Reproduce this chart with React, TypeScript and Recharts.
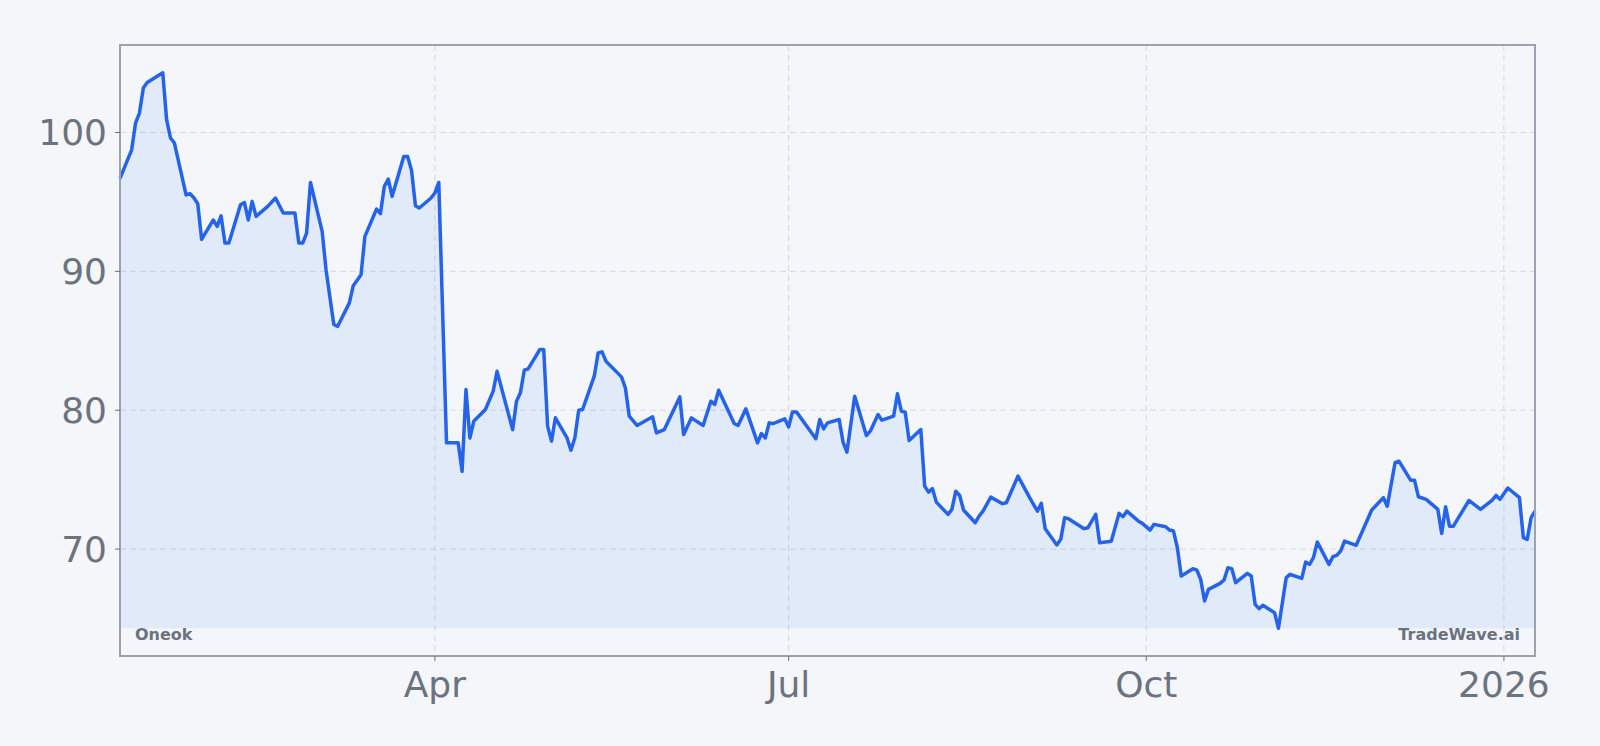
import { AreaChart, Area, XAxis, YAxis, CartesianGrid, ReferenceArea } from 'recharts'

// daily closes (Oneok, Jan 2025 - Jan 2026)
const dates = [
  '2025-01-10', '2025-01-13', '2025-01-14', '2025-01-15', '2025-01-16', '2025-01-17', '2025-01-21', '2025-01-22',
  '2025-01-23', '2025-01-24', '2025-01-27', '2025-01-28', '2025-01-29', '2025-01-30', '2025-01-31', '2025-02-03',
  '2025-02-04', '2025-02-05', '2025-02-06', '2025-02-07', '2025-02-10', '2025-02-11', '2025-02-12', '2025-02-13',
  '2025-02-14', '2025-02-17', '2025-02-19', '2025-02-21', '2025-02-24', '2025-02-25', '2025-02-26', '2025-02-27',
  '2025-02-28', '2025-03-03', '2025-03-04', '2025-03-06', '2025-03-07', '2025-03-10', '2025-03-11', '2025-03-13',
  '2025-03-14', '2025-03-17', '2025-03-18', '2025-03-19', '2025-03-20', '2025-03-21', '2025-03-24', '2025-03-25',
  '2025-03-26', '2025-03-27', '2025-03-28', '2025-03-31', '2025-04-01', '2025-04-02', '2025-04-04', '2025-04-07',
  '2025-04-08', '2025-04-09', '2025-04-10', '2025-04-11', '2025-04-14', '2025-04-16', '2025-04-17', '2025-04-21',
  '2025-04-22', '2025-04-23', '2025-04-24', '2025-04-25', '2025-04-28', '2025-04-29', '2025-04-30', '2025-05-01',
  '2025-05-02', '2025-05-05', '2025-05-06', '2025-05-07', '2025-05-08', '2025-05-09', '2025-05-12', '2025-05-13',
  '2025-05-14', '2025-05-15', '2025-05-19', '2025-05-20', '2025-05-21', '2025-05-23', '2025-05-27', '2025-05-28',
  '2025-05-30', '2025-06-03', '2025-06-04', '2025-06-06', '2025-06-09', '2025-06-11', '2025-06-12', '2025-06-13',
  '2025-06-17', '2025-06-18', '2025-06-20', '2025-06-23', '2025-06-24', '2025-06-25', '2025-06-26', '2025-06-27',
  '2025-06-30', '2025-07-01', '2025-07-02', '2025-07-03', '2025-07-08', '2025-07-09', '2025-07-10', '2025-07-11',
  '2025-07-14', '2025-07-15', '2025-07-16', '2025-07-18', '2025-07-21', '2025-07-22', '2025-07-24', '2025-07-25',
  '2025-07-28', '2025-07-29', '2025-07-30', '2025-07-31', '2025-08-01', '2025-08-04', '2025-08-05', '2025-08-06',
  '2025-08-07', '2025-08-08', '2025-08-11', '2025-08-12', '2025-08-13', '2025-08-14', '2025-08-15', '2025-08-18',
  '2025-08-19', '2025-08-20', '2025-08-22', '2025-08-25', '2025-08-26', '2025-08-29', '2025-09-01', '2025-09-03',
  '2025-09-04', '2025-09-05', '2025-09-08', '2025-09-09', '2025-09-10', '2025-09-11', '2025-09-15', '2025-09-16',
  '2025-09-18', '2025-09-19', '2025-09-22', '2025-09-24', '2025-09-25', '2025-09-26', '2025-09-29', '2025-09-30',
  '2025-10-02', '2025-10-03', '2025-10-06', '2025-10-07', '2025-10-08', '2025-10-09', '2025-10-10', '2025-10-13',
  '2025-10-14', '2025-10-15', '2025-10-16', '2025-10-17', '2025-10-20', '2025-10-21', '2025-10-22', '2025-10-23',
  '2025-10-24', '2025-10-27', '2025-10-28', '2025-10-29', '2025-10-30', '2025-10-31', '2025-11-03', '2025-11-04',
  '2025-11-06', '2025-11-07', '2025-11-10', '2025-11-11', '2025-11-12', '2025-11-13', '2025-11-14', '2025-11-17',
  '2025-11-18', '2025-11-19', '2025-11-20', '2025-11-21', '2025-11-24', '2025-11-28', '2025-12-01', '2025-12-02',
  '2025-12-04', '2025-12-05', '2025-12-08', '2025-12-09', '2025-12-10', '2025-12-12', '2025-12-15', '2025-12-16',
  '2025-12-17', '2025-12-18', '2025-12-19', '2025-12-23', '2025-12-26', '2025-12-29', '2025-12-30', '2025-12-31',
  '2026-01-02', '2026-01-05', '2026-01-06', '2026-01-07', '2026-01-08', '2026-01-09',
]

const prices = [
  96.7, 98.75, 100.68, 101.4, 103.2, 103.6, 104.3, 100.9,
  99.6, 99.24, 95.5, 95.6, 95.3, 94.87, 92.3, 93.7,
  93.24, 94.0, 92.04, 92.04, 94.8, 94.96, 93.7, 95.04,
  93.96, 94.68, 95.28, 94.2, 94.2, 92.04, 92.04, 92.76,
  96.4, 92.88, 90.12, 86.17, 86.04, 87.73, 88.97, 89.76,
  92.52, 94.49, 94.15, 96.12, 96.65, 95.4, 98.27, 98.27,
  97.27, 94.73, 94.56, 95.28, 95.64, 96.4, 77.65, 77.65,
  75.6, 81.49, 78.0, 79.2, 80.05, 81.37, 82.8, 78.6,
  80.65, 81.25, 82.88, 82.98, 84.37, 84.37, 78.85, 77.77,
  79.45, 78.0, 77.12, 78.0, 80.0, 80.05, 82.45, 84.13,
  84.2, 83.53, 82.4, 81.61, 79.57, 78.9, 79.53, 78.37,
  78.6, 80.96, 78.25, 79.45, 78.9, 80.65, 80.41, 81.44,
  79.04, 78.9, 80.1, 77.65, 78.32, 78.0, 79.09, 79.04,
  79.38, 78.8, 79.88, 79.88, 77.94, 79.33, 78.66, 79.09,
  79.33, 77.7, 76.98, 81.0, 78.18, 78.49, 79.69, 79.28,
  79.57, 81.18, 79.93, 79.86, 77.82, 78.61, 74.53, 74.1,
  74.35, 73.38, 72.5, 72.86, 74.17, 73.86, 72.81, 71.9,
  72.37, 72.73, 73.74, 73.27, 73.34, 75.25, 73.7, 72.73,
  73.29, 71.47, 70.3, 70.7, 72.26, 72.19, 71.47, 71.54,
  72.5, 70.46, 70.57, 72.57, 72.33, 72.73, 72.01, 71.85,
  71.37, 71.78, 71.61, 71.37, 71.3, 70.1, 68.06, 68.59,
  68.49, 67.82, 66.26, 67.1, 67.53, 67.77, 68.66, 68.59,
  67.58, 68.25, 68.06, 66.02, 65.71, 65.95, 65.42, 64.3,
  67.94, 68.18, 67.89, 69.06, 68.9, 69.38, 70.5, 68.9,
  69.45, 69.55, 69.86, 70.58, 70.27, 72.81, 73.7, 73.09,
  76.22, 76.33, 74.96, 74.96, 73.77, 73.58, 72.86, 71.13,
  73.05, 71.65, 71.65, 73.5, 72.86, 73.53, 73.86, 73.58,
  74.4, 73.7, 70.82, 70.7, 72.26, 72.73,
]

const xTickDates = ['2025-04-01', '2025-07-01', '2025-10-01', '2026-01-01']
const xTickLabels = ['Apr', 'Jul', 'Oct', '2026']
const yTicks = [70, 80, 90, 100]

const toTime = (d: string) => Date.parse(d + 'T00:00:00Z')

const data = dates.map((d, i) => ({ t: toTime(d), price: prices[i] }))
const xTicks = xTickDates.map(toTime)

const lo = Math.min(...prices)
const hi = Math.max(...prices)
const pad = (hi - lo) * 0.05
const yMin = lo - pad
const yMax = hi + pad
const tMin = data[0].t
const tMax = data[data.length - 1].t

const FONT = 'DejaVu Sans'
const tickStyle = { fontSize: 36, fill: '#6b7280', fontFamily: FONT }

export default function App() {
  return (
    <div style={{ position: 'fixed', left: 0, top: 0, width: 1600, height: 746, background: '#f4f6f9' }}>
      <AreaChart width={1600} height={746} data={data} margin={{ top: 45, right: 65, bottom: 0, left: 0 }}>
        <CartesianGrid stroke="#d5d9df" strokeDasharray="6 4" />
        <XAxis
          dataKey="t"
          type="number"
          domain={[tMin, tMax]}
          ticks={xTicks}
          interval={0}
          tickFormatter={(v: number) => xTickLabels[xTicks.indexOf(v)]}
          tick={tickStyle}
          tickSize={5}
          tickMargin={10}
          tickLine={{ stroke: '#6b7280' }}
          axisLine={false}
          height={90}
        />
        <YAxis
          type="number"
          domain={[yMin, yMax]}
          ticks={yTicks}
          interval={0}
          tick={tickStyle}
          tickSize={5}
          tickMargin={8}
          tickLine={{ stroke: '#6b7280' }}
          axisLine={false}
          width={120}
        />
        <Area
          type="linear"
          dataKey="price"
          baseValue={lo}
          stroke="#2563eb"
          strokeWidth={3.5}
          strokeLinejoin="round"
          fill="#3b82f6"
          fillOpacity={0.1}
          dot={false}
          activeDot={false}
          isAnimationActive={false}
        />
        <ReferenceArea
          x1={tMin}
          x2={tMax}
          y1={yMin}
          y2={yMax}
          fill="none"
          stroke="#9ca3af"
          strokeWidth={2}
          ifOverflow="visible"
        />
      </AreaChart>
      <svg width={1600} height={746} style={{ position: 'absolute', left: 0, top: 0, pointerEvents: 'none' }}>
        <text x={135} y={640} fontFamily={FONT} fontWeight="bold" fontSize={16} fill="#6b7280">
          Oneok
        </text>
        <text x={1520} y={640} fontFamily={FONT} fontWeight="bold" fontSize={16} fill="#6b7280" textAnchor="end">
          TradeWave.ai
        </text>
      </svg>
    </div>
  )
}
